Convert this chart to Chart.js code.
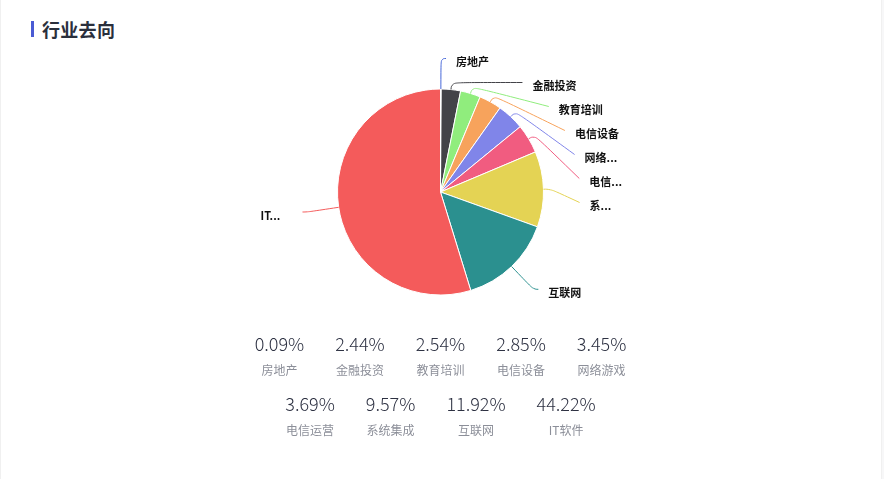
<!DOCTYPE html>
<html>
<head>
<meta charset="utf-8">
<script src="https://cdn.jsdelivr.net/npm/chart.js@4/dist/chart.umd.min.js"></script>
<style>
  html, body { margin: 0; padding: 0; background: #f7f7f8; }
  body { width: 884px; height: 479px; position: relative; overflow: hidden; font-family: "Noto Sans CJK SC", "Noto Sans", sans-serif; }
  #card { position: absolute; left: 0; top: 0; width: 880px; height: 479px; background: #fff; border-left: 1px solid #f0f0f0; border-right: 1px solid #f0f0f0; }
  #bar { position: absolute; left: 31px; top: 21px; width: 3px; height: 16px; background: #4a5bd4; }
  #title { position: absolute; left: 42px; top: 17px; line-height: 24px; font-size: 18px; font-weight: bold; color: #2a2f3c; letter-spacing: 0.3px; }
  #chart { position: absolute; left: 0; top: 0; }
  #stats { position: absolute; left: 0; top: 331px; width: 881px; }
  .row { display: flex; justify-content: center; gap: 31px; margin-bottom: 12px; }
  .item { text-align: center; }
  .val { font-size: 18px; font-weight: 300; line-height: 24px; color: #2d3142; }
  .lab { font-size: 12px; line-height: 18px; color: #8c8f99; margin-top: 6px; }
</style>
</head>
<body>
<div id="card"></div>
<div id="bar"></div>
<div id="title">行业去向</div>
<canvas id="chart" width="881" height="384" style="width:881px;height:384px"></canvas>
<div id="stats"></div>
<script>
const categories = ['房地产','金融投资','教育培训','电信设备','网络游戏','电信运营','系统集成','互联网','IT软件'];
const values = [0.09, 2.44, 2.54, 2.85, 3.45, 3.69, 9.57, 11.92, 44.22];
const pieLabels = ['房地产','金融投资','教育培训','电信设备','网络...','电信...','系...','互联网','IT...'];
const colors = ['#4566d8','#434348','#90ed7d','#f7a35c','#8085e9','#f15c80','#e4d354','#2b908f','#f45b5b'];
const firstRowCount = 5;

// stats rows
const stats = document.getElementById('stats');
[categories.slice(0, firstRowCount), categories.slice(firstRowCount)].forEach((rowCats, r) => {
  const row = document.createElement('div');
  row.className = 'row';
  rowCats.forEach((c, k) => {
    const idx = r === 0 ? k : firstRowCount + k;
    const it = document.createElement('div');
    it.className = 'item';
    it.innerHTML = '<div class="val">' + values[idx].toFixed(2) + '%</div><div class="lab">' + c + '</div>';
    row.appendChild(it);
  });
  stats.appendChild(row);
});

const labelPlugin = {
  id: 'pieLabels',
  afterDatasetsDraw(chart) {
    const ctx = chart.ctx;
    const meta = chart.getDatasetMeta(0);
    const LEN = 31.5, LEN2 = 5, DIST = 10, H = 24, TOP = 58.5, KNEE = 7, SMOOTH = 0.5, TEXT_DY = 3.5, LEFT_BOUND = 180;
    const items = meta.data.map((arc, i) => {
      const p = arc.getProps(['x','y','startAngle','endAngle','outerRadius'], true);
      const a = (p.startAngle + p.endAngle) / 2;
      const nx = Math.cos(a), ny = Math.sin(a);
      const dir = nx >= 0 ? 1 : -1;
      const r = p.outerRadius;
      return { i, cx: p.x, cy: p.y, r, nx, ny, dir,
        p1: [p.x + r * nx, p.y + r * ny],
        y: p.y + (r + LEN) * ny,
        tx: p.x + (r + LEN) * nx + dir * (LEN2 + DIST) };
    });
    if (!items.length) return;
    const cx = items[0].cx, cy = items[0].cy, rA = items[0].r + LEN;
    [1, -1].forEach(dir => {
      const side = items.filter(it => it.dir === dir).sort((a, b) => a.y - b.y);
      let prev = -Infinity, shifted = false;
      side.forEach((it, k) => {
        const nyv = Math.max(it.y, k === 0 ? TOP : prev + H);
        if (Math.abs(nyv - it.y) > 1e-6) shifted = true;
        it.y = nyv; prev = nyv;
      });
      if (!shifted) return;
      [side.filter(it => it.y < cy), side.filter(it => it.y >= cy)].forEach(semi => {
        if (!semi.length) return;
        const m = semi.reduce((a, b) => Math.abs(b.y - cy) >= Math.abs(a.y - cy) ? b : a);
        const dyM = Math.abs(m.y - cy);
        const dxM = Math.abs(m.tx - cx) - (LEN2 + DIST);
        const rB = dxM < rA ? Math.sqrt(dyM * dyM / (1 - dxM * dxM / (rA * rA))) : rA;
        semi.forEach(it => {
          const dy = Math.abs(it.y - cy);
          const dx = Math.sqrt(Math.max(0, 1 - dy * dy / (rB * rB))) * rA;
          it.tx = cx + dir * (dx + LEN2 + DIST);
        });
      });
    });
    ctx.save();
    items.forEach(it => {
      const p1 = it.p1;
      const p3 = [it.tx - it.dir * DIST, it.y];
      let knee;
      const t = Math.abs(it.ny) > 1e-6 ? (it.y - p1[1]) / it.ny : -1;
      if (t > 0.5 && (p1[0] + it.nx * t - p3[0]) * it.dir < 0) knee = [p1[0] + it.nx * t, it.y];
      else knee = [p1[0] + it.nx * KNEE, p1[1] + it.ny * KNEE];
      ctx.beginPath();
      ctx.strokeStyle = colors[it.i];
      ctx.lineWidth = 1;
      ctx.moveTo(p1[0], p1[1]);
      const l1 = Math.hypot(knee[0] - p1[0], knee[1] - p1[1]);
      const l2 = Math.hypot(p3[0] - knee[0], p3[1] - knee[1]);
      if (l1 > 1e-3 && l2 > 1e-3) {
        const mv = Math.min(l1, l2) * SMOOTH;
        const m0 = [knee[0] + (p1[0] - knee[0]) * mv / l1, knee[1] + (p1[1] - knee[1]) * mv / l1];
        const m2 = [knee[0] + (p3[0] - knee[0]) * mv / l2, knee[1] + (p3[1] - knee[1]) * mv / l2];
        const m1 = [(m0[0] + m2[0]) / 2, (m0[1] + m2[1]) / 2];
        ctx.bezierCurveTo(m0[0], m0[1], m0[0], m0[1], m1[0], m1[1]);
        ctx.bezierCurveTo(m2[0], m2[1], m2[0], m2[1], p3[0], p3[1]);
      } else {
        ctx.lineTo(knee[0], knee[1]);
        ctx.lineTo(p3[0], p3[1]);
      }
      ctx.stroke();
      const text = pieLabels[it.i];
      ctx.font = 'bold 11px "Noto Sans CJK SC", sans-serif';
      ctx.fillStyle = '#111111';
      ctx.textBaseline = 'middle';
      if (it.dir > 0) {
        ctx.textAlign = 'left';
        ctx.fillText(text, it.tx, it.y + TEXT_DY);
      } else if (text !== categories[it.i]) {
        ctx.textAlign = 'left';
        ctx.fillText(text, cx - LEFT_BOUND, it.y + TEXT_DY);
      } else {
        ctx.textAlign = 'right';
        ctx.fillText(text, it.tx, it.y + TEXT_DY);
      }
    });
    ctx.restore();
  }
};

new Chart(document.getElementById('chart'), {
  type: 'pie',
  data: {
    labels: categories,
    datasets: [{ data: values, backgroundColor: colors, borderColor: '#ffffff', borderWidth: 1 }]
  },
  options: {
    responsive: false,
    animation: false,
    radius: 103,
    layout: { padding: 0 },
    events: [],
    plugins: { legend: { display: false }, tooltip: { enabled: false } }
  },
  plugins: [labelPlugin]
});
</script>
</body>
</html>
